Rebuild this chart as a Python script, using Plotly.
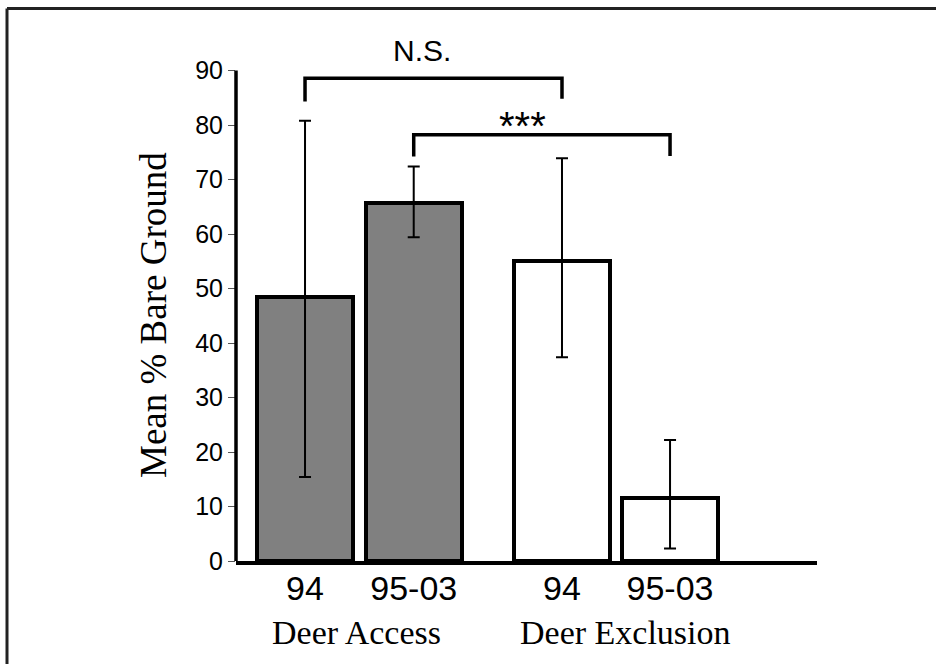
import plotly.graph_objects as go

# ---- data ----
groups = ["Deer Access", "Deer Exclusion"]
periods = ["94", "95-03", "94", "95-03"]
means = [48.4, 65.7, 55.1, 11.6]
err_upper = [80.8, 72.4, 73.9, 22.2]
err_lower = [15.4, 59.4, 37.4, 2.3]
y_ticks = [0, 10, 20, 30, 40, 50, 60, 70, 80, 90]
ns_bracket = [84.3, 88.6, 84.8]      # left leg end, top, right leg end
sig_bracket = [74.2, 78.2, 74.3]
ns_label = "N.S."
sig_label = "***"
y_title = "Mean % Bare Ground"

# ---- layout helpers (positions, not data) ----
xpos = [0.0, 1.0, 2.364, 3.358]
bar_w = 0.883
fills = ["#808080", "#808080", "#ffffff", "#ffffff"]
X_RANGE = [-0.635, 4.71]
Y_RANGE = [0, 100]

plus = [u - m for u, m in zip(err_upper, means)]
minus = [m - l for m, l in zip(means, err_lower)]

fig = go.Figure()
fig.add_trace(go.Bar(
    x=xpos, y=means, width=bar_w,
    marker=dict(color=fills, line=dict(color="black", width=4)),
    error_y=dict(type="data", symmetric=False, array=plus, arrayminus=minus,
                 color="black", thickness=2, width=6),
    showlegend=False, hoverinfo="skip",
))

def bracket(x0, x1, ys):
    fig.add_trace(go.Scatter(
        x=[x0, x0, x1, x1], y=[ys[0], ys[1], ys[1], ys[2]],
        mode="lines", line=dict(color="black", width=3.5),
        showlegend=False, hoverinfo="skip", cliponaxis=False,
    ))

bracket(xpos[0], xpos[2], ns_bracket)
bracket(xpos[1], xpos[3], sig_bracket)

sans = "Liberation Sans, Arial, sans-serif"
serif = "Liberation Serif, Times New Roman, serif"

annotations = [
    dict(x=1.08, y=93.6, xref="x", yref="y", text=ns_label, showarrow=False,
         font=dict(family=sans, size=30, color="black"), xanchor="center", yanchor="middle"),
    dict(x=2.0, y=79.9, xref="x", yref="y", text=sig_label, showarrow=False,
         font=dict(family=sans, size=40, color="black"), xanchor="center", yanchor="middle"),
    dict(x=(356 - 236) / 581, y=-0.132, xref="paper", yref="paper", text=groups[0],
         showarrow=False, font=dict(family=serif, size=34, color="black"),
         xanchor="center", yanchor="middle"),
    dict(x=(625 - 236) / 581, y=-0.132, xref="paper", yref="paper", text=groups[1],
         showarrow=False, font=dict(family=serif, size=34, color="black"),
         xanchor="center", yanchor="middle"),
    dict(x=(153 - 236) / 581, y=(561 - 315) / 545, xref="paper", yref="paper",
         text=y_title, textangle=-90, showarrow=False,
         font=dict(family=serif, size=37, color="black"),
         xanchor="center", yanchor="middle"),
]

fx0 = (7 - 236) / 581
fx1 = (936 - 236) / 581
fy_top = (561 - 8.5) / 545
fy_bot = (561 - 664) / 545
frame = dict(color="#222222", width=3)

shapes = [
    # y axis line (0..90)
    dict(type="line", xref="paper", yref="y", x0=0, x1=0, y0=0, y1=y_ticks[-1],
         line=dict(color="black", width=3.5)),
    # outer frame (top and left edges visible)
    dict(type="line", xref="paper", yref="paper", x0=fx0, x1=fx1, y0=fy_top, y1=fy_top,
         line=frame),
    dict(type="line", xref="paper", yref="paper", x0=fx0, x1=fx0, y0=fy_bot, y1=fy_top,
         line=frame),
]

fig.update_layout(
    width=936, height=664,
    margin=dict(l=236, r=119, t=16, b=103),
    paper_bgcolor="white", plot_bgcolor="white",
    bargap=0,
    xaxis=dict(range=X_RANGE, tickvals=xpos, ticktext=periods, showgrid=False,
               zeroline=False, showline=True, linecolor="black", linewidth=4,
               ticks="", ticklabelstandoff=-6,
               tickfont=dict(family=sans, size=34, color="black")),
    yaxis=dict(range=Y_RANGE, tickvals=y_ticks, showgrid=False, zeroline=False,
               showline=False, ticks="outside", ticklen=7, tickwidth=1,
               tickcolor="#555555", tickfont=dict(family=sans, size=25, color="black")),
    annotations=annotations,
    shapes=shapes,
)

fig.write_html(
    "out.html",
    config={"displayModeBar": False},
    post_script=(
        "document.documentElement.style.overflow='hidden';"
        "document.body.style.margin='0';document.body.style.overflow='hidden';"
    ),
)
